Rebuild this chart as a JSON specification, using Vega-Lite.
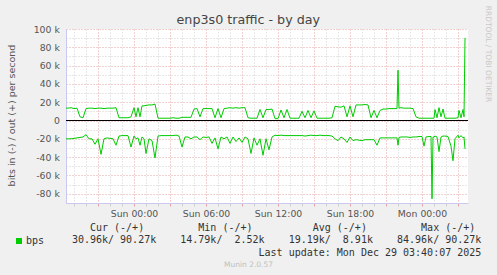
{
  "$schema": "https://vega.github.io/schema/vega-lite/v6.json",
  "width": 402,
  "height": 174,
  "autosize": {"type": "none"},
  "padding": {"left": 66, "top": 29, "right": 29, "bottom": 72},
  "background": "#f0f0f0",
  "config": {"view": {"fill": "#ffffff", "stroke": null}},
  "title": {"text": "enp3s0 traffic - by day", "font": "DejaVu Sans", "fontSize": 12.7, "fontWeight": "normal", "color": "#444444", "anchor": "middle", "frame": "group", "dx": -18.7, "dy": 37, "baseline": "alphabetic", "offset": 6},
  "data": {"values": [
    {"t": "2025-12-27T18:20Z", "o": 13500, "i": -20000},
    {"t": "2025-12-27T18:30Z", "o": 13500, "i": -20000},
    {"t": "2025-12-27T18:45Z", "o": 14000, "i": -20000},
    {"t": "2025-12-27T19:00Z", "o": 13000, "i": -19500},
    {"t": "2025-12-27T19:15Z", "o": 13500, "i": -19000},
    {"t": "2025-12-27T19:30Z", "o": 4000, "i": -18500},
    {"t": "2025-12-27T19:45Z", "o": 3000, "i": -18000},
    {"t": "2025-12-27T20:00Z", "o": 13000, "i": -15500},
    {"t": "2025-12-27T20:15Z", "o": 13500, "i": -20000},
    {"t": "2025-12-27T20:30Z", "o": 13500, "i": -20000},
    {"t": "2025-12-27T20:45Z", "o": 13000, "i": -26000},
    {"t": "2025-12-27T21:00Z", "o": 13500, "i": -20000},
    {"t": "2025-12-27T21:15Z", "o": 13500, "i": -37000},
    {"t": "2025-12-27T21:30Z", "o": 13000, "i": -20000},
    {"t": "2025-12-27T21:45Z", "o": 13500, "i": -19000},
    {"t": "2025-12-27T22:00Z", "o": 13500, "i": -19500},
    {"t": "2025-12-27T22:15Z", "o": 13500, "i": -20000},
    {"t": "2025-12-27T22:30Z", "o": 14000, "i": -27000},
    {"t": "2025-12-27T22:45Z", "o": 3000, "i": -17000},
    {"t": "2025-12-27T23:00Z", "o": 3000, "i": -16500},
    {"t": "2025-12-27T23:15Z", "o": 3000, "i": -16500},
    {"t": "2025-12-27T23:30Z", "o": 3000, "i": -16500},
    {"t": "2025-12-27T23:45Z", "o": 4000, "i": -29000},
    {"t": "2025-12-28T00:00Z", "o": 14000, "i": -17000},
    {"t": "2025-12-28T00:10Z", "o": 4000, "i": -20000},
    {"t": "2025-12-28T00:20Z", "o": 14000, "i": -19000},
    {"t": "2025-12-28T00:30Z", "o": 4000, "i": -27000},
    {"t": "2025-12-28T00:40Z", "o": 16000, "i": -18000},
    {"t": "2025-12-28T00:50Z", "o": 16000, "i": -20000},
    {"t": "2025-12-28T01:00Z", "o": 16500, "i": -36000},
    {"t": "2025-12-28T01:15Z", "o": 17000, "i": -20000},
    {"t": "2025-12-28T01:30Z", "o": 17000, "i": -22000},
    {"t": "2025-12-28T01:45Z", "o": 18000, "i": -41000},
    {"t": "2025-12-28T02:00Z", "o": 2500, "i": -17000},
    {"t": "2025-12-28T02:15Z", "o": 2500, "i": -16500},
    {"t": "2025-12-28T02:30Z", "o": 2500, "i": -16500},
    {"t": "2025-12-28T02:45Z", "o": 2500, "i": -16500},
    {"t": "2025-12-28T03:00Z", "o": 2500, "i": -16500},
    {"t": "2025-12-28T03:15Z", "o": 3000, "i": -16500},
    {"t": "2025-12-28T03:30Z", "o": 2500, "i": -16000},
    {"t": "2025-12-28T03:45Z", "o": 2500, "i": -17000},
    {"t": "2025-12-28T04:00Z", "o": 3500, "i": -29000},
    {"t": "2025-12-28T04:15Z", "o": 3500, "i": -18000},
    {"t": "2025-12-28T04:30Z", "o": 3500, "i": -18000},
    {"t": "2025-12-28T04:45Z", "o": 3500, "i": -20000},
    {"t": "2025-12-28T05:00Z", "o": 12500, "i": -18000},
    {"t": "2025-12-28T05:15Z", "o": 13000, "i": -18000},
    {"t": "2025-12-28T05:30Z", "o": 4000, "i": -21000},
    {"t": "2025-12-28T05:45Z", "o": 13000, "i": -18000},
    {"t": "2025-12-28T06:00Z", "o": 13000, "i": -18500},
    {"t": "2025-12-28T06:15Z", "o": 13000, "i": -18000},
    {"t": "2025-12-28T06:30Z", "o": 13000, "i": -25000},
    {"t": "2025-12-28T06:45Z", "o": 3000, "i": -19000},
    {"t": "2025-12-28T07:00Z", "o": 13000, "i": -31000},
    {"t": "2025-12-28T07:15Z", "o": 3000, "i": -18000},
    {"t": "2025-12-28T07:30Z", "o": 13000, "i": -20000},
    {"t": "2025-12-28T07:45Z", "o": 13500, "i": -18000},
    {"t": "2025-12-28T08:00Z", "o": 14000, "i": -25000},
    {"t": "2025-12-28T08:15Z", "o": 13500, "i": -18000},
    {"t": "2025-12-28T08:30Z", "o": 14000, "i": -23000},
    {"t": "2025-12-28T08:45Z", "o": 13500, "i": -19000},
    {"t": "2025-12-28T09:00Z", "o": 14000, "i": -24000},
    {"t": "2025-12-28T09:15Z", "o": 14000, "i": -18000},
    {"t": "2025-12-28T09:30Z", "o": 3000, "i": -20000},
    {"t": "2025-12-28T09:45Z", "o": 2500, "i": -36000},
    {"t": "2025-12-28T10:00Z", "o": 2500, "i": -19000},
    {"t": "2025-12-28T10:15Z", "o": 2500, "i": -27000},
    {"t": "2025-12-28T10:30Z", "o": 12000, "i": -20000},
    {"t": "2025-12-28T10:45Z", "o": 3000, "i": -38000},
    {"t": "2025-12-28T11:00Z", "o": 12000, "i": -20000},
    {"t": "2025-12-28T11:15Z", "o": 12000, "i": -32000},
    {"t": "2025-12-28T11:30Z", "o": 12500, "i": -18000},
    {"t": "2025-12-28T11:45Z", "o": 2000, "i": -16000},
    {"t": "2025-12-28T12:00Z", "o": 2000, "i": -16500},
    {"t": "2025-12-28T12:15Z", "o": 11500, "i": -16000},
    {"t": "2025-12-28T12:30Z", "o": 3000, "i": -16500},
    {"t": "2025-12-28T12:45Z", "o": 12000, "i": -16500},
    {"t": "2025-12-28T13:00Z", "o": 2500, "i": -16500},
    {"t": "2025-12-28T13:15Z", "o": 2500, "i": -16500},
    {"t": "2025-12-28T13:30Z", "o": 2500, "i": -16500},
    {"t": "2025-12-28T13:45Z", "o": 2500, "i": -16500},
    {"t": "2025-12-28T14:00Z", "o": 10000, "i": -16500},
    {"t": "2025-12-28T14:15Z", "o": 3000, "i": -17000},
    {"t": "2025-12-28T14:30Z", "o": 11000, "i": -16500},
    {"t": "2025-12-28T14:45Z", "o": 3000, "i": -16000},
    {"t": "2025-12-28T15:00Z", "o": 10500, "i": -16500},
    {"t": "2025-12-28T15:15Z", "o": 2500, "i": -16500},
    {"t": "2025-12-28T15:30Z", "o": 2500, "i": -16000},
    {"t": "2025-12-28T15:45Z", "o": 2500, "i": -16500},
    {"t": "2025-12-28T16:00Z", "o": 2500, "i": -16500},
    {"t": "2025-12-28T16:15Z", "o": 2500, "i": -16500},
    {"t": "2025-12-28T16:30Z", "o": 3000, "i": -17000},
    {"t": "2025-12-28T16:45Z", "o": 15500, "i": -20000},
    {"t": "2025-12-28T17:00Z", "o": 15000, "i": -22000},
    {"t": "2025-12-28T17:15Z", "o": 14500, "i": -18000},
    {"t": "2025-12-28T17:30Z", "o": 16000, "i": -20000},
    {"t": "2025-12-28T17:45Z", "o": 4000, "i": -24000},
    {"t": "2025-12-28T18:00Z", "o": 16000, "i": -18000},
    {"t": "2025-12-28T18:15Z", "o": 4000, "i": -22000},
    {"t": "2025-12-28T18:30Z", "o": 17000, "i": -21000},
    {"t": "2025-12-28T18:45Z", "o": 17000, "i": -21500},
    {"t": "2025-12-28T19:00Z", "o": 17000, "i": -22000},
    {"t": "2025-12-28T19:15Z", "o": 17500, "i": -21000},
    {"t": "2025-12-28T19:30Z", "o": 17000, "i": -21000},
    {"t": "2025-12-28T19:45Z", "o": 3000, "i": -21000},
    {"t": "2025-12-28T20:00Z", "o": 11000, "i": -21000},
    {"t": "2025-12-28T20:15Z", "o": 3000, "i": -27000},
    {"t": "2025-12-28T20:30Z", "o": 11000, "i": -19000},
    {"t": "2025-12-28T20:45Z", "o": 12500, "i": -19000},
    {"t": "2025-12-28T21:00Z", "o": 12500, "i": -19000},
    {"t": "2025-12-28T21:15Z", "o": 13000, "i": -19000},
    {"t": "2025-12-28T21:30Z", "o": 13000, "i": -19000},
    {"t": "2025-12-28T21:45Z", "o": 13000, "i": -19000},
    {"t": "2025-12-28T21:55Z", "o": 13000, "i": -19000},
    {"t": "2025-12-28T22:00Z", "o": 55000, "i": -27000},
    {"t": "2025-12-28T22:05Z", "o": 13500, "i": -18500},
    {"t": "2025-12-28T22:15Z", "o": 14000, "i": -18000},
    {"t": "2025-12-28T22:30Z", "o": 13500, "i": -18000},
    {"t": "2025-12-28T22:45Z", "o": 13500, "i": -18000},
    {"t": "2025-12-28T23:00Z", "o": 13500, "i": -18500},
    {"t": "2025-12-28T23:15Z", "o": 13000, "i": -18000},
    {"t": "2025-12-28T23:30Z", "o": 4000, "i": -18000},
    {"t": "2025-12-28T23:45Z", "o": 2500, "i": -17500},
    {"t": "2025-12-29T00:00Z", "o": 2500, "i": -17500},
    {"t": "2025-12-29T00:10Z", "o": 2500, "i": -28000},
    {"t": "2025-12-29T00:20Z", "o": 2500, "i": -18000},
    {"t": "2025-12-29T00:35Z", "o": 2500, "i": -17500},
    {"t": "2025-12-29T00:45Z", "o": 2500, "i": -17500},
    {"t": "2025-12-29T00:50Z", "o": 2500, "i": -85600},
    {"t": "2025-12-29T00:55Z", "o": 2500, "i": -18000},
    {"t": "2025-12-29T01:00Z", "o": 2500, "i": -18000},
    {"t": "2025-12-29T01:05Z", "o": 12000, "i": -17000},
    {"t": "2025-12-29T01:15Z", "o": 3000, "i": -18000},
    {"t": "2025-12-29T01:25Z", "o": 14000, "i": -34000},
    {"t": "2025-12-29T01:35Z", "o": 4000, "i": -18000},
    {"t": "2025-12-29T01:45Z", "o": 12500, "i": -17000},
    {"t": "2025-12-29T01:55Z", "o": 2500, "i": -17000},
    {"t": "2025-12-29T02:10Z", "o": 2500, "i": -17500},
    {"t": "2025-12-29T02:25Z", "o": 2500, "i": -28000},
    {"t": "2025-12-29T02:35Z", "o": 2500, "i": -44000},
    {"t": "2025-12-29T02:45Z", "o": 2500, "i": -20000},
    {"t": "2025-12-29T03:00Z", "o": 3000, "i": -16000},
    {"t": "2025-12-29T03:05Z", "o": 11000, "i": -19000},
    {"t": "2025-12-29T03:15Z", "o": 3000, "i": -16500},
    {"t": "2025-12-29T03:25Z", "o": 12000, "i": -19000},
    {"t": "2025-12-29T03:30Z", "o": 4000, "i": -18000},
    {"t": "2025-12-29T03:35Z", "o": 90270, "i": -30960}
  ]},
  "resolve": {"axis": {"x": "independent", "y": "independent"}},
  "layer": [
    {
      "mark": {"type": "line", "strokeWidth": 1, "interpolate": "linear"},
      "encoding": {
        "x": {
          "field": "t", "type": "temporal",
          "scale": {"type": "utc", "domain": [{"year": 2025, "month": 12, "date": 27, "hours": 18, "minutes": 20, "utc": true}, {"year": 2025, "month": 12, "date": 29, "hours": 3, "minutes": 50, "utc": true}]},
          "axis": {
            "orient": "bottom",
            "title": [
              "\u200b\u00a0\u00a0\u00a0Cur\u00a0(-/+)\u00a0\u00a0\u00a0\u00a0\u00a0\u00a0\u00a0\u00a0\u00a0Min\u00a0(-/+)\u00a0\u00a0\u00a0\u00a0\u00a0\u00a0\u00a0\u00a0\u00a0\u00a0Avg\u00a0(-/+)\u00a0\u00a0\u00a0\u00a0\u00a0\u00a0\u00a0\u00a0\u00a0Max\u00a0(-/+)",
              "30.96k/\u00a090.27k\u00a0\u00a0\u00a0\u00a014.79k/\u00a0\u00a02.52k\u00a0\u00a0\u00a0\u00a019.19k/\u00a0\u00a08.91k\u00a0\u00a0\u00a0\u00a084.96k/\u00a090.27k",
              "\u200b\u00a0\u00a0\u00a0\u00a0\u00a0\u00a0\u00a0\u00a0\u00a0\u00a0\u00a0\u00a0\u00a0\u00a0\u00a0\u00a0\u00a0\u00a0\u00a0\u00a0\u00a0\u00a0\u00a0\u00a0\u00a0\u00a0\u00a0\u00a0\u00a0\u00a0\u00a0Last\u00a0update:\u00a0Mon\u00a0Dec\u00a029\u00a003:40:07\u00a02025"
            ],
            "titleFont": "DejaVu Sans Mono", "titleFontSize": 10, "titleFontWeight": "normal", "titleColor": "#333333",
            "titleX": 5.4, "titleY": 27.5, "titleAlign": "left", "titleAnchor": "start", "titleBaseline": "alphabetic", "titleLineHeight": 12.3,
            "tickCount": 34,
            "grid": true,
            "gridColor": {"condition": {"test": "utchours(datum.value) % 3 === 0", "value": "#e6a3a3"}, "value": "#cfcfcf"},
            "gridDash": [1, 2], "gridWidth": 1,
            "domainColor": "#c8c8f0", "domainWidth": 1,
            "ticks": true, "tickSize": 3,
            "tickColor": {"condition": {"test": "utchours(datum.value) % 3 === 0", "value": "#e6a3a3"}, "value": "#cfcfcf"},
            "labelExpr": "utchours(datum.value) % 6 === 0 ? utcFormat(datum.value, '%a %H:%M') : ''",
            "labelFont": "DejaVu Sans", "labelFontSize": 9.3, "labelColor": "#555555", "labelBaseline": "alphabetic",
            "labelPadding": 10.3, "labelOverlap": false, "labelFlush": false
          }
        },
        "y": {
          "field": "o", "type": "quantitative",
          "scale": {"domain": [-90160, 100000], "nice": false, "zero": false},
          "axis": {
            "orient": "left",
            "values": [-80000, -70000, -60000, -50000, -40000, -30000, -20000, -10000, 0, 10000, 20000, 30000, 40000, 50000, 60000, 70000, 80000, 90000, 100000],
            "title": "bits in (-) / out (+) per second",
            "titleFont": "DejaVu Sans", "titleFontSize": 9.5, "titleFontWeight": "normal", "titleColor": "#555555",
            "titleAngle": -90, "titleX": -52, "titleY": 86, "titleAlign": "center", "titleBaseline": "alphabetic",
            "grid": true,
            "gridColor": {"condition": {"test": "datum.value % 20000 === 0", "value": "#e6a3a3"}, "value": "#cfcfcf"},
            "gridDash": [1, 2], "gridWidth": 1,
            "domainColor": "#c8c8f0", "domainWidth": 1,
            "ticks": false, "tickSize": 0, "labelPadding": 6.7,
            "labelExpr": "datum.value % 20000 !== 0 ? '' : (datum.value === 0 ? '0' : (datum.value / 1000) + ' k')",
            "labelFont": "DejaVu Sans", "labelFontSize": 9.3, "labelColor": "#555555",
            "labelOverlap": false, "labelFlush": false
          }
        },
        "color": {
          "datum": "bps",
          "scale": {"range": ["#00cc00"]},
          "legend": {
            "orient": "none", "legendX": -52, "legendY": 207, "title": null,
            "symbolType": "square", "symbolSize": 36, "symbolFillColor": "#00cc00", "symbolStrokeColor": "#00cc00", "symbolStrokeWidth": 0,
            "labelFont": "DejaVu Sans Mono", "labelFontSize": 10, "labelColor": "#333333", "labelOffset": 2, "padding": 0
          }
        }
      }
    },
    {
      "mark": {"type": "line", "strokeWidth": 1, "interpolate": "linear"},
      "encoding": {
        "x": {
          "field": "t", "type": "temporal",
          "axis": {
            "orient": "bottom", "domain": false, "ticks": false, "labels": false, "grid": false,
            "title": "Munin 2.0.57",
            "titleFont": "DejaVu Sans", "titleFontSize": 7.5, "titleFontWeight": "normal", "titleColor": "#c0c0c0",
            "titleX": 182, "titleY": 63, "titleAlign": "center", "titleBaseline": "alphabetic"
          }
        },
        "y": {"field": "i", "type": "quantitative", "axis": null},
        "color": {"datum": "bps"}
      }
    },
    {
      "mark": {"type": "rule", "color": "#000000", "strokeWidth": 1},
      "encoding": {
        "y": {
          "datum": 0, "type": "quantitative",
          "axis": {
            "orient": "right", "domain": false, "ticks": false, "labels": false, "grid": false,
            "title": "RRDTOOL / TOBI OETIKER",
            "titleFont": "DejaVu Sans", "titleFontSize": 7.5, "titleFontWeight": "normal", "titleColor": "#c8c8c8",
            "titleAngle": 90, "titleX": 19, "titleY": 24.5, "titleAlign": "center", "titleBaseline": "middle"
          }
        }
      }
    }
  ]
}
